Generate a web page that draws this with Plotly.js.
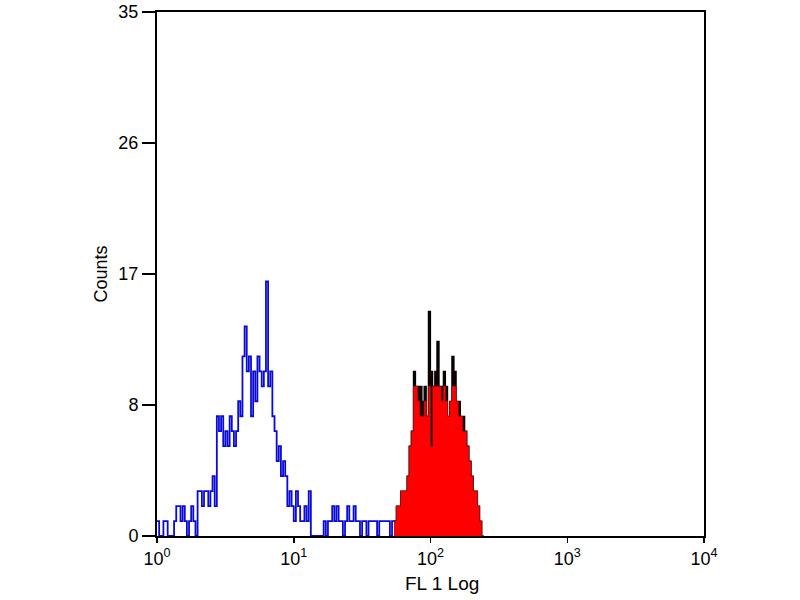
<!DOCTYPE html>
<html>
<head>
<meta charset="utf-8">
<script src="https://cdn.plot.ly/plotly-3.0.1.min.js"></script>
<style>html,body{margin:0;padding:0;background:#fff;}#chart{width:800px;height:600px;}</style>
</head>
<body>
<div id="chart"></div>
<script>
// Histogram channel setup (256 channels over 4 decades)
const CHANNELS = 256;
const DECADES = 4;

// Tick labels
const xTickVals = [1, 10, 100, 1000, 10000];
const xTickText = ["10<sup>0</sup>", "10<sup>1</sup>", "10<sup>2</sup>", "10<sup>3</sup>", "10<sup>4</sup>"];
const yTickVals = [0, 8.75, 17.5, 26.25, 35];
const yTickText = ["0", "8", "17", "26", "35"];
const xTitle = "FL 1 Log";
const yTitle = "Counts";

// Blue (control) histogram counts, starting at channel 0
const blueStart = 0;
const blueCounts = [
  1,0,0,1,1,0,0,0,1,2, 2,1,2,1,0,1,2,1,0,3,
  3,2,3,3,2,3,4,2,8,7, 8,6,7,6,8,7,6,7,9,8,
  12,14,11,12,8,11,9,12,11,10, 11,17,10,11,8,7,5,6,4,5,
  4,2,3,2,1,3,2,1,1,2, 1,3,0,0,0,0,0,0,1,0,
  1,1,2,1,2,1,1,0,1,2, 1,1,2,1,1,0,1,1,0,1,
  1,1,1,0,1,1,1,1,1,0, 1,1
];

// Sample histogram: black outline envelope and red fill, starting at channel 111
const sampleStart = 111;
const blackCounts = [
  1,2,2,3,3,3,4,6,7,
  11,10,10,10,9,10,8,15,11,10,
  11,13,10,10,11,10,8,9,12,11,
  9,9,8,8,7,6,5,4,3,3,
  2,1,0
];
const redCounts = [
  1,2,2,3,3,3,4,6,7,
  10,10,9,8,8,9,8,10,6,10,
  10,10,10,9,10,9,8,9,10,10,
  9,8,8,7,7,6,5,4,3,3,
  2,1,0
];

function chX(i) { return Math.pow(10, i * DECADES / CHANNELS); }
function stepData(start, counts) {
  const xs = [], ys = [];
  for (let i = 0; i < counts.length; i++) { xs.push(chX(start + i)); ys.push(counts[i]); }
  xs.push(chX(start + counts.length)); ys.push(counts[counts.length - 1]);
  return {x: xs, y: ys};
}

const blue = stepData(blueStart, blueCounts);
const black = stepData(sampleStart, blackCounts);
const red = stepData(sampleStart, redCounts);

const FONT = "Liberation Sans, Arial, sans-serif";

const traces = [
  {x: blue.x, y: blue.y, type: 'scatter', mode: 'lines', line: {shape: 'hv', color: 'rgb(10,10,215)', width: 1.8}, hoverinfo: 'skip'},
  {x: black.x, y: black.y, type: 'scatter', mode: 'lines', fill: 'tozeroy', fillcolor: 'rgb(20,0,0)', line: {shape: 'hv', color: 'rgb(0,0,0)', width: 1.2}, hoverinfo: 'skip'},
  {x: red.x, y: red.y, type: 'scatter', mode: 'lines', fill: 'tozeroy', fillcolor: 'rgb(255,0,0)', line: {shape: 'hv', color: 'rgb(150,20,20)', width: 0.8}, hoverinfo: 'skip'}
];

const layout = {
  width: 800, height: 600,
  margin: {l: 157, r: 96, t: 12, b: 64},
  paper_bgcolor: '#fff', plot_bgcolor: '#fff',
  showlegend: false,
  font: {family: FONT, color: '#000', size: 17},
  xaxis: {
    type: 'log', range: [0, 4],
    tickmode: 'array', tickvals: xTickVals, ticktext: xTickText,
    ticks: 'outside', ticklen: 5, tickwidth: 1.5, tickcolor: '#000',
    showline: true, linecolor: '#000', linewidth: 2, mirror: true,
    showgrid: false, zeroline: false,
    tickfont: {family: FONT, size: 18, color: '#000'},
    automargin: false
  },
  yaxis: {
    range: [0, 35],
    tickmode: 'array', tickvals: yTickVals, ticktext: yTickText,
    ticks: 'outside', ticklen: 13, tickwidth: 1.5, tickcolor: '#000',
    showline: true, linecolor: '#000', linewidth: 2, mirror: true,
    showgrid: false, zeroline: false,
    tickfont: {family: FONT, size: 18, color: '#000'},
    title: {text: yTitle, font: {family: FONT, size: 18, color: '#000'}, standoff: 6},
    automargin: false
  },
  annotations: [
    {text: xTitle, xref: 'paper', yref: 'paper', x: 0.521, y: -0.091, xanchor: 'center', yanchor: 'middle',
     showarrow: false, font: {family: FONT, size: 19, color: '#000'}}
  ]
};

Plotly.newPlot('chart', traces, layout, {displayModeBar: false, staticPlot: true});
</script>
</body>
</html>
